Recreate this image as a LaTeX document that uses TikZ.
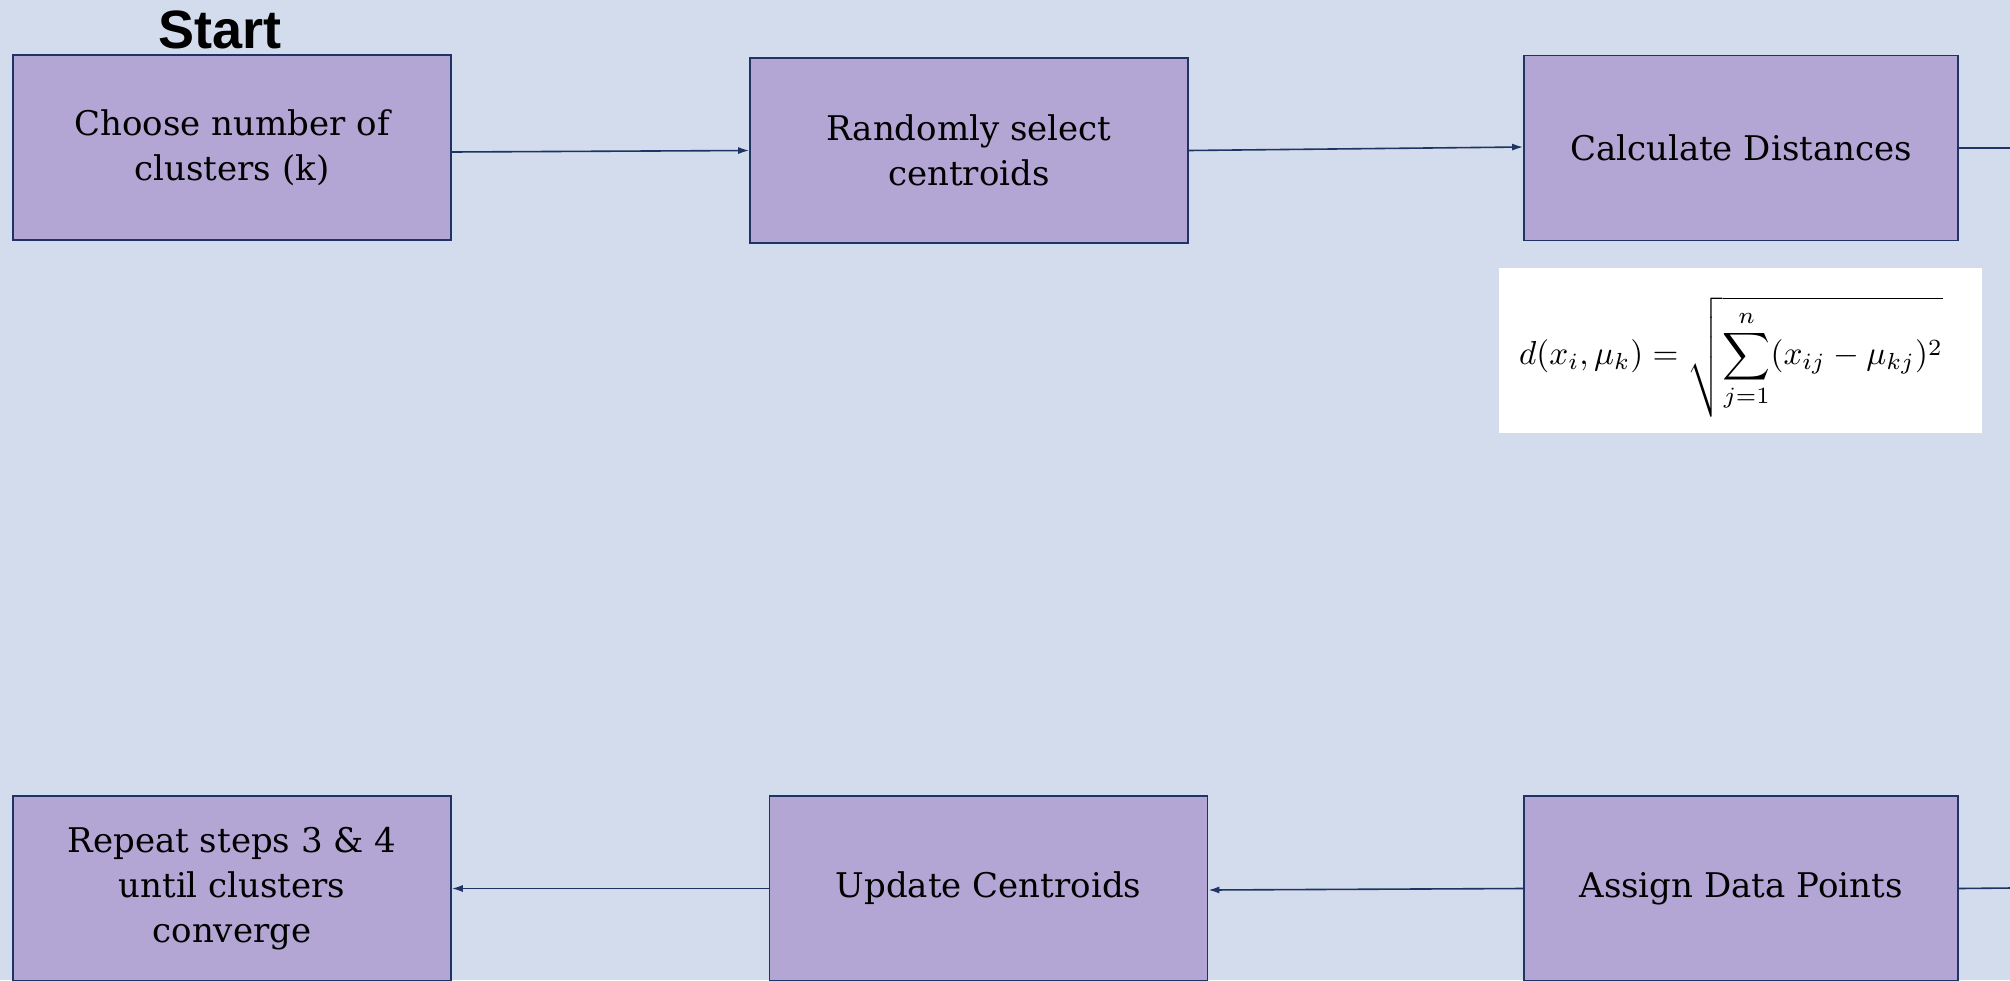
\documentclass[tikz,border=0pt]{standalone}
\usepackage{amsmath}
\usepackage{fontspec}
\newfontfamily\boxfont{DejaVu Serif}
\newfontfamily\startfont{Liberation Sans}
\usetikzlibrary{arrows.meta}
\definecolor{bgcol}{RGB}{210,220,236}
\definecolor{boxfill}{RGB}{179,166,212}
\definecolor{navy}{RGB}{31,52,100}
\tikzset{
  stepbox/.style={draw=navy, line width=1.6pt, fill=boxfill, rectangle,
    minimum width=438pt, minimum height=185pt, inner sep=0pt, align=center,
    font=\boxfont\fontsize{34pt}{45pt}\selectfont, text=black},
  conn/.style={draw=navy, line width=1.6pt},
  arr/.style={conn, -{Latex[length=11pt,width=7pt]}}
}
\begin{document}
\begin{tikzpicture}[x=1pt,y=-1pt]
\fill[bgcol] (0,0) rectangle (2010,980);
\useasboundingbox (0,0) rectangle (2010,980);
\begin{scope}
\clip (0,0) rectangle (2010,980);
\node[stepbox] (b1) at (232,147.5) {Choose number of\\clusters (k)};
\node[stepbox] (b2) at (969,150.5) {Randomly select\\centroids};
\node[stepbox, minimum width=434pt] (b3) at (1741,148) {Calculate Distances};
\node[stepbox, minimum width=434pt] (b4) at (1741,888.5) {Assign Data Points};
\node[stepbox] (b5) at (988.5,888.5) {Update Centroids};
\node[stepbox] (b6) at (232,888.5) {Repeat steps 3 \& 4\\until clusters\\converge};
\node[font=\startfont\bfseries\fontsize{54pt}{60pt}\selectfont, anchor=base] (start) at (220,48) {Start};
\node[fill=white, minimum width=483pt, minimum height=165pt, inner sep=0pt] (fbox) at (1740.5,350.5) {};
\node (formula) at (1731,357) {\scalebox{3.32}{$\displaystyle d(x_i,\mu_k)=\sqrt{\sum_{j=1}^{n}(x_{ij}-\mu_{kj})^2}$}};
\coordinate (r1) at (2012,148);
\coordinate (r2) at (2012,888);
\draw[arr] ([yshift=-4.5pt]b1.east) -- (b2.west);
\draw[arr] (b2.east) -- ([yshift=1pt]b3.west);
\draw[conn] (b3.east) -- (r1);
\draw[conn] (r2) -- (b4.east);
\draw[arr] (b4.west) -- ([yshift=-1.5pt]b5.east);
\draw[arr] (b5.west) -- (b6.east);
\end{scope}
\end{tikzpicture}
\end{document}
